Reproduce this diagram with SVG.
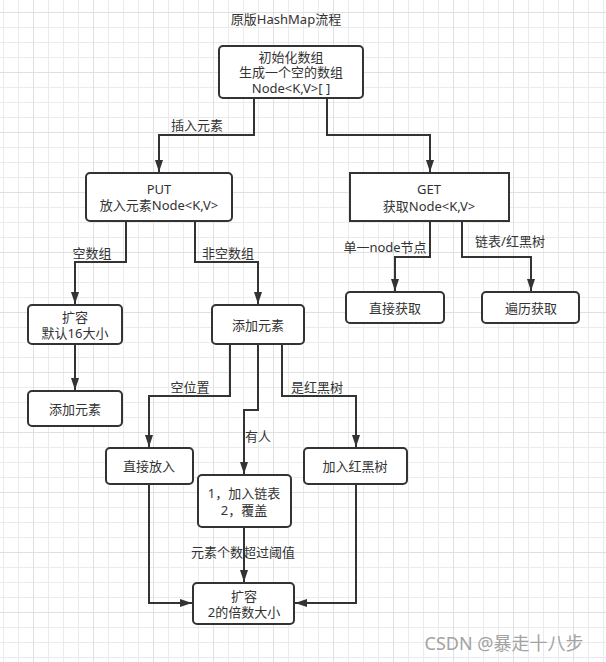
<svg xmlns="http://www.w3.org/2000/svg" width="606" height="662" viewBox="0 0 606 662">
<defs>
<pattern id="grid" x="33" y="12" width="60" height="60" patternUnits="userSpaceOnUse">
<path d="M15.5,0V60M30.5,0V60M45.5,0V60M0,15.5H60M0,30.5H60M0,45.5H60" stroke="#ebebeb" stroke-width="1" fill="none"/>
<path d="M0.5,0V60M0,0.5H60" stroke="#e0e0e0" stroke-width="1" fill="none"/>
</pattern>
<marker id="arr" markerUnits="userSpaceOnUse" markerWidth="12" markerHeight="8" viewBox="0 0 12 8" refX="12" refY="4" orient="auto">
<path d="M0,0L12,4L0,8z" fill="#333"/>
</marker>
<style>
text{font-family:"Noto Sans","Noto Sans CJK SC",sans-serif;font-size:13px;fill:#333;text-anchor:middle;dominant-baseline:central}
.box{fill:#fff;stroke:#333;stroke-width:2}
.edge{fill:none;stroke:#333;stroke-width:2;marker-end:url(#arr)}
.wm{font-size:18px;fill:#a3a3a3}
</style>
</defs>
<rect width="606" height="662" fill="#fff"/>
<rect width="606" height="662" fill="url(#grid)"/>
<text x="286" y="19">原版HashMap流程</text>
<g id="edges">
<path class="edge" d="M254,98V135H159V172"/>
<path class="edge" d="M327,98V135H430V172"/>
<path class="edge" d="M430,221V257H395V291"/>
<path class="edge" d="M462,221V257H531V291"/>
<path class="edge" d="M126,221V262H75V304"/>
<path class="edge" d="M195,221V262H258V304"/>
<path class="edge" d="M75,344V390"/>
<path class="edge" d="M230,344V396H149V447"/>
<path class="edge" d="M258,344V410H244V474"/>
<path class="edge" d="M282,344V396H356V447"/>
<path class="edge" d="M244,527V582"/>
<path class="edge" d="M149,484V603H192"/>
<path class="edge" d="M356,484V603H295"/>
<text x="197" y="125">插入元素</text>
<text x="385" y="247">单一node节点</text>
<text x="510" y="241">链表/红黑树</text>
<text x="92" y="253">空数组</text>
<text x="228" y="253">非空数组</text>
<text x="190" y="387">空位置</text>
<text x="317" y="387">是红黑树</text>
<text x="258" y="436">有人</text>
<text x="243" y="552">元素个数超过阈值</text>
</g>
<g id="init">
<rect class="box" x="219" y="46" width="144" height="52" rx="4"/>
<text x="291" y="57">初始化数组</text>
<text x="291" y="72">生成一个空的数组</text>
<text x="291" y="88">Node&lt;K,V&gt;[ ]</text>
</g>
<g id="put">
<rect class="box" x="86" y="173" width="146" height="48" rx="4"/>
<text x="159" y="189">PUT</text>
<text x="159" y="205">放入元素Node&lt;K,V&gt;</text>
</g>
<g id="get">
<rect class="box" x="350" y="173" width="159" height="48"/>
<text x="429" y="189">GET</text>
<text x="429" y="206">获取Node&lt;K,V&gt;</text>
</g>
<g id="direct-get">
<rect class="box" x="346" y="292" width="98" height="31" rx="4"/>
<text x="395" y="308">直接获取</text>
</g>
<g id="traverse-get">
<rect class="box" x="482" y="292" width="97" height="31" rx="4"/>
<text x="531" y="308">遍历获取</text>
</g>
<g id="resize16">
<rect class="box" x="28" y="305" width="94" height="39" rx="4"/>
<text x="75" y="317">扩容</text>
<text x="75" y="333">默认16大小</text>
</g>
<g id="add-left">
<rect class="box" x="28" y="391" width="94" height="35" rx="4"/>
<text x="75" y="409">添加元素</text>
</g>
<g id="add-mid">
<rect class="box" x="212" y="305" width="92" height="39" rx="4"/>
<text x="258" y="325">添加元素</text>
</g>
<g id="put-direct">
<rect class="box" x="106" y="448" width="87" height="36" rx="4"/>
<text x="149" y="466">直接放入</text>
</g>
<g id="linked">
<rect class="box" x="198" y="475" width="93" height="52" rx="4"/>
<text x="244" y="493">1，加入链表</text>
<text x="244" y="510">2，覆盖</text>
</g>
<g id="rbtree">
<rect class="box" x="304" y="448" width="103" height="36" rx="4"/>
<text x="355" y="466">加入红黑树</text>
</g>
<g id="resize2">
<rect class="box" x="193" y="583" width="101" height="41" rx="4"/>
<text x="244" y="596">扩容</text>
<text x="244" y="612">2的倍数大小</text>
</g>
<text class="wm" x="504" y="643">CSDN @暴走十八步</text>
</svg>
